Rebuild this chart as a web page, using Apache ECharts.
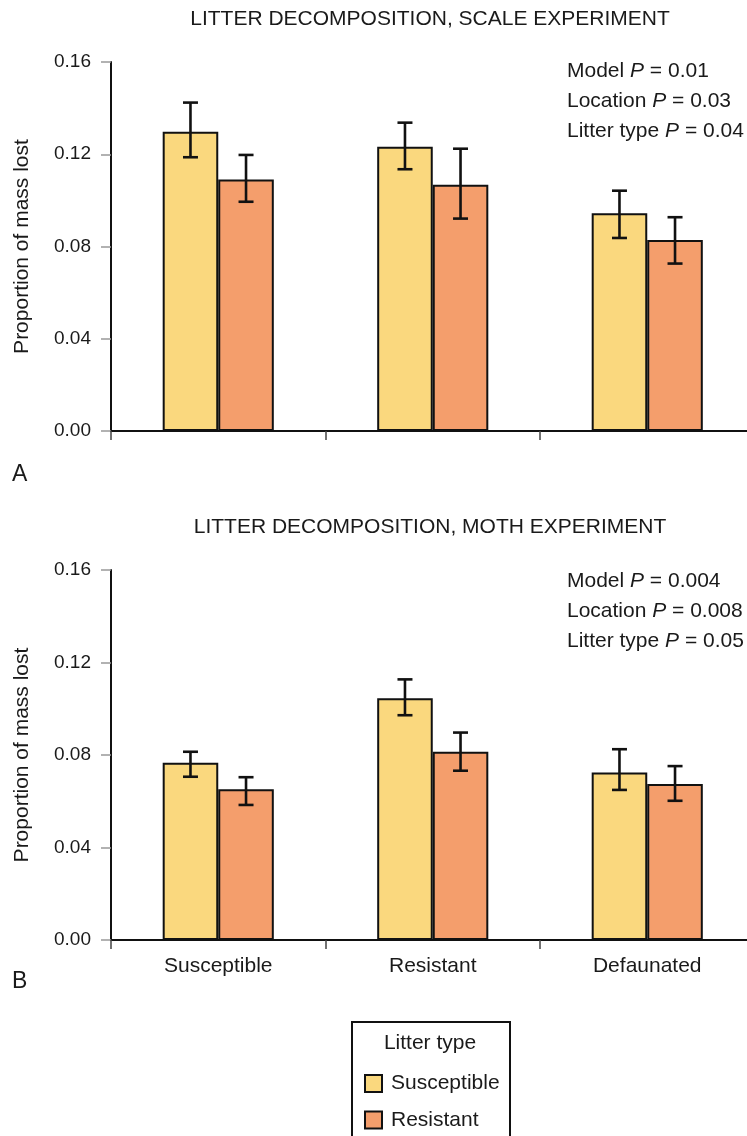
<!DOCTYPE html>
<html><head><meta charset="utf-8">
<script src="https://cdn.jsdelivr.net/npm/echarts@6/dist/echarts.min.js"></script>
<style>html,body{margin:0;padding:0;background:#fff}#c{width:747px;height:1136px}</style>
</head><body><div id="c"></div>
<script>
const categories = ['Susceptible', 'Resistant', 'Defaunated'];
const yTicks = [0, 0.04, 0.08, 0.12, 0.16];
const seriesNames = ['Susceptible', 'Resistant'];

const scaleSusc = [0.1298, 0.1233, 0.0944];
const scaleSuscLow = [0.1187, 0.1135, 0.0837];
const scaleSuscHigh = [0.1424, 0.1337, 0.1042];
const scaleResist = [0.1091, 0.1068, 0.0828];
const scaleResistLow = [0.0994, 0.0921, 0.0726];
const scaleResistHigh = [0.1197, 0.1224, 0.0927];

const mothSusc = [0.0767, 0.1045, 0.0724];
const mothSuscLow = [0.0706, 0.0972, 0.0649];
const mothSuscHigh = [0.0814, 0.1127, 0.0825];
const mothResist = [0.0652, 0.0814, 0.0675];
const mothResistLow = [0.0584, 0.0732, 0.0602];
const mothResistHigh = [0.0704, 0.0897, 0.0752];

const scaleStats = [['Model', '0.01'], ['Location', '0.03'], ['Litter type', '0.04']];
const mothStats = [['Model', '0.004'], ['Location', '0.008'], ['Litter type', '0.05']];

const FONT = '"Liberation Sans", Arial, Helvetica, sans-serif';
const TXT = '#1a1a1a';
const YELLOW = '#FAD87E';
const ORANGE = '#F49E6C';
const BAR_FRAC = 0.259;
const FS = 21;

const chart = echarts.init(document.getElementById('c'), null, {renderer: 'canvas'});

function errSeries(name, xi, yi, lows, highs, sign) {
  return {
    type: 'custom', name: name + ' err', xAxisIndex: xi, yAxisIndex: yi, z: 10,
    data: lows.map((l, i) => [i, l, highs[i]]),
    encode: {x: 0, y: [1, 2]},
    renderItem: function (params, api) {
      const ci = api.value(0);
      const lo = api.coord([ci, api.value(1)]);
      const hi = api.coord([ci, api.value(2)]);
      const band = api.size([1, 0])[0];
      const x = lo[0] + sign * band * BAR_FRAC / 2;
      const cap = 7.5;
      const st = {stroke: '#111', lineWidth: 2.6};
      return {type: 'group', children: [
        {type: 'line', shape: {x1: x, y1: lo[1], x2: x, y2: hi[1]}, style: st},
        {type: 'line', shape: {x1: x - cap, y1: lo[1], x2: x + cap, y2: lo[1]}, style: st},
        {type: 'line', shape: {x1: x - cap, y1: hi[1], x2: x + cap, y2: hi[1]}, style: st}
      ]};
    }
  };
}

function barSeries(name, xi, yi, vals, color) {
  return {
    type: 'bar', name: name, xAxisIndex: xi, yAxisIndex: yi, data: vals,
    barWidth: (BAR_FRAC * 100) + '%', barGap: '0%',
    itemStyle: {color: color, borderColor: '#111', borderWidth: 2},
    emphasis: {disabled: true}
  };
}

function xAxisCfg(gi, showLabels) {
  return {
    type: 'category', gridIndex: gi, data: categories, boundaryGap: true,
    axisLine: {lineStyle: {color: '#111', width: 2}},
    axisTick: {show: true, length: 9, lineStyle: {color: '#444', width: 1.5}},
    axisLabel: {show: showLabels, color: TXT, fontSize: FS, fontFamily: FONT, margin: 16}
  };
}
function yAxisCfg(gi) {
  return {
    type: 'value', gridIndex: gi, min: yTicks[0], max: yTicks[yTicks.length - 1], interval: 0.04,
    name: 'Proportion of mass lost', nameLocation: 'middle', nameGap: 78,
    nameTextStyle: {color: TXT, fontSize: FS, fontFamily: FONT},
    axisLine: {show: true, lineStyle: {color: '#111', width: 2}},
    axisTick: {show: true, length: 10, lineStyle: {color: '#999', width: 1.5}},
    axisLabel: {color: TXT, fontSize: 19, fontFamily: FONT, margin: 20, formatter: v => v.toFixed(2)},
    splitLine: {show: false}
  };
}

function statTexts(stats, y0) {
  return stats.map((s, i) => ({
    type: 'text', x: 567, y: y0 + i * 30.3,
    style: {
      text: '{n|' + s[0] + ' }{p|P}{n| = ' + s[1] + '}',
      verticalAlign: 'middle',
      rich: {
        n: {fontSize: FS, fontFamily: FONT, fill: TXT},
        p: {fontSize: FS, fontFamily: FONT, fontStyle: 'italic', fill: TXT}
      }
    }
  }));
}

function legendCfg(name, top) {
  return {
    orient: 'vertical', left: 364, top: top, padding: 0, itemWidth: 17, itemHeight: 17,
    icon: 'rect', data: [name], selectedMode: false,
    itemStyle: {borderColor: '#111', borderWidth: 2},
    textStyle: {color: TXT, fontSize: FS, fontFamily: FONT, padding: [0, 0, 0, 4]}
  };
}

const option = {
  backgroundColor: '#fff',
  animation: false,
  grid: [
    {left: 111, top: 62, height: 369, width: 643.5, outerBoundsMode: 'none', containLabel: false},
    {left: 111, top: 570, height: 370, width: 643.5, outerBoundsMode: 'none', containLabel: false}
  ],
  xAxis: [xAxisCfg(0, false), xAxisCfg(1, true)],
  yAxis: [yAxisCfg(0), yAxisCfg(1)],
  legend: [legendCfg(seriesNames[0], 1073), legendCfg(seriesNames[1], 1109.5)],
  series: [
    barSeries(seriesNames[0], 0, 0, scaleSusc, YELLOW),
    barSeries(seriesNames[1], 0, 0, scaleResist, ORANGE),
    errSeries('s1', 0, 0, scaleSuscLow, scaleSuscHigh, -1),
    errSeries('s2', 0, 0, scaleResistLow, scaleResistHigh, 1),
    barSeries(seriesNames[0], 1, 1, mothSusc, YELLOW),
    barSeries(seriesNames[1], 1, 1, mothResist, ORANGE),
    errSeries('m1', 1, 1, mothSuscLow, mothSuscHigh, -1),
    errSeries('m2', 1, 1, mothResistLow, mothResistHigh, 1)
  ],
  graphic: [
    {type: 'text', x: 430, y: 19, style: {text: 'LITTER DECOMPOSITION, SCALE EXPERIMENT', fontSize: FS, fontFamily: FONT, fill: TXT, align: 'center', verticalAlign: 'middle'}},
    {type: 'text', x: 430, y: 527, style: {text: 'LITTER DECOMPOSITION, MOTH EXPERIMENT', fontSize: FS, fontFamily: FONT, fill: TXT, align: 'center', verticalAlign: 'middle'}},
    {type: 'text', x: 12, y: 475, style: {text: 'A', fontSize: 23, fontFamily: FONT, fill: TXT, verticalAlign: 'middle'}},
    {type: 'text', x: 12, y: 982, style: {text: 'B', fontSize: 23, fontFamily: FONT, fill: TXT, verticalAlign: 'middle'}},
    ...statTexts(scaleStats, 71),
    ...statTexts(mothStats, 581),
    {type: 'rect', shape: {x: 352, y: 1022, width: 158, height: 140}, style: {fill: 'none', stroke: '#111', lineWidth: 2}, z: -1},
    {type: 'text', x: 430, y: 1043, style: {text: 'Litter type', fontSize: FS, fontFamily: FONT, fill: TXT, align: 'center', verticalAlign: 'middle'}}
  ]
};
chart.setOption(option);
</script></body></html>
